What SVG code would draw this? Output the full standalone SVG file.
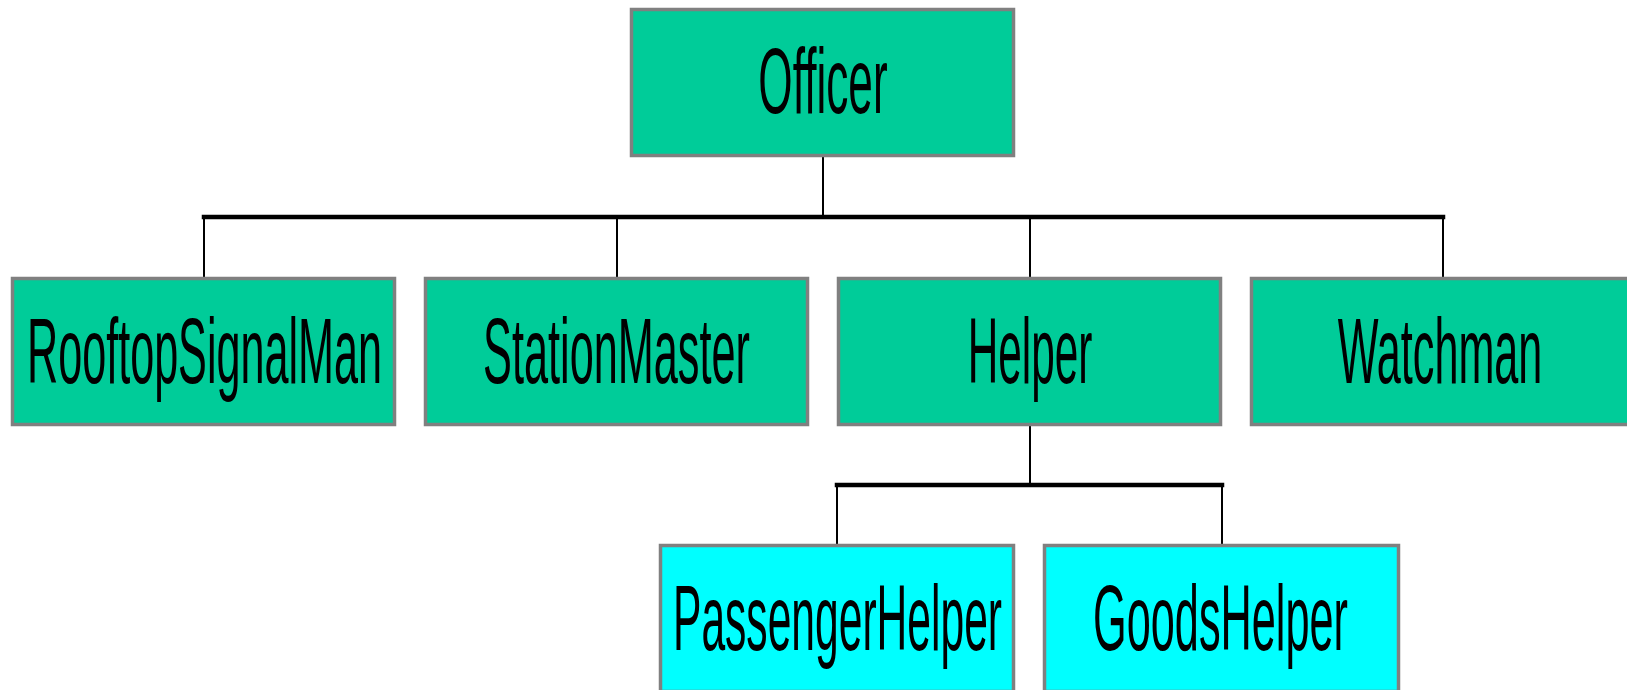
<svg xmlns="http://www.w3.org/2000/svg" width="1627" height="690" viewBox="0 0 1627 690">
  <style>
    .box { stroke: #808080; stroke-width: 3.5; }
    .lvl1 { fill: #00CC99; }
    .lvl2 { fill: #00FFFF; }
    .label { font-family: "Liberation Sans", Arial, sans-serif; font-size: 93px; fill: #000; text-anchor: middle; }
    .stem { stroke: #000; stroke-width: 2; fill: none; }
    .bus { stroke: #000; stroke-width: 4.5; fill: none; stroke-linecap: square; }
  </style>
  <rect width="1627" height="690" fill="#ffffff"/>

  <!-- tree connectors: stems and horizontal buses -->
  <g id="connectors">
    <line class="stem" x1="823" y1="157" x2="823" y2="217"/>
    <line class="bus" x1="204" y1="217" x2="1443" y2="217"/>
    <line class="stem" x1="204" y1="217" x2="204" y2="277"/>
    <line class="stem" x1="617" y1="217" x2="617" y2="277"/>
    <line class="stem" x1="1030" y1="217" x2="1030" y2="277"/>
    <line class="stem" x1="1443" y1="217" x2="1443" y2="277"/>
    <line class="stem" x1="1030" y1="426" x2="1030" y2="485"/>
    <line class="bus" x1="837" y1="485" x2="1222" y2="485"/>
    <line class="stem" x1="837" y1="485" x2="837" y2="544"/>
    <line class="stem" x1="1222" y1="485" x2="1222" y2="544"/>
  </g>

  <!-- labels use a condensed look: Liberation Sans squeezed horizontally -->
  <g id="officer">
    <rect class="box lvl1" x="631.5" y="9.5" width="382" height="146"/>
    <text class="label" transform="translate(823,113) scale(0.475,1)">Officer</text>
  </g>

  <g id="rooftop-signal-man">
    <rect class="box lvl1" x="12.5" y="278.5" width="382" height="146"/>
    <text class="label" transform="translate(204.5,383) scale(0.464,1)">RooftopSignalMan</text>
  </g>

  <g id="station-master">
    <rect class="box lvl1" x="425.5" y="278.5" width="382" height="146"/>
    <text class="label" transform="translate(616.5,383) scale(0.465,1)">StationMaster</text>
  </g>

  <g id="helper">
    <rect class="box lvl1" x="838.5" y="278.5" width="382" height="146"/>
    <text class="label" transform="translate(1030,383) scale(0.455,1)">Helper</text>
  </g>

  <g id="watchman">
    <rect class="box lvl1" x="1251.5" y="278.5" width="382" height="146"/>
    <text class="label" transform="translate(1440,383) scale(0.464,1)">Watchman</text>
  </g>

  <g id="passenger-helper">
    <rect class="box lvl2" x="660.5" y="545.5" width="353" height="146"/>
    <text class="label" transform="translate(837.5,650) scale(0.458,1)">PassengerHelper</text>
  </g>

  <g id="goods-helper">
    <rect class="box lvl2" x="1044.5" y="545.5" width="354" height="146"/>
    <text class="label" transform="translate(1220.5,650) scale(0.465,1)">GoodsHelper</text>
  </g>
</svg>
